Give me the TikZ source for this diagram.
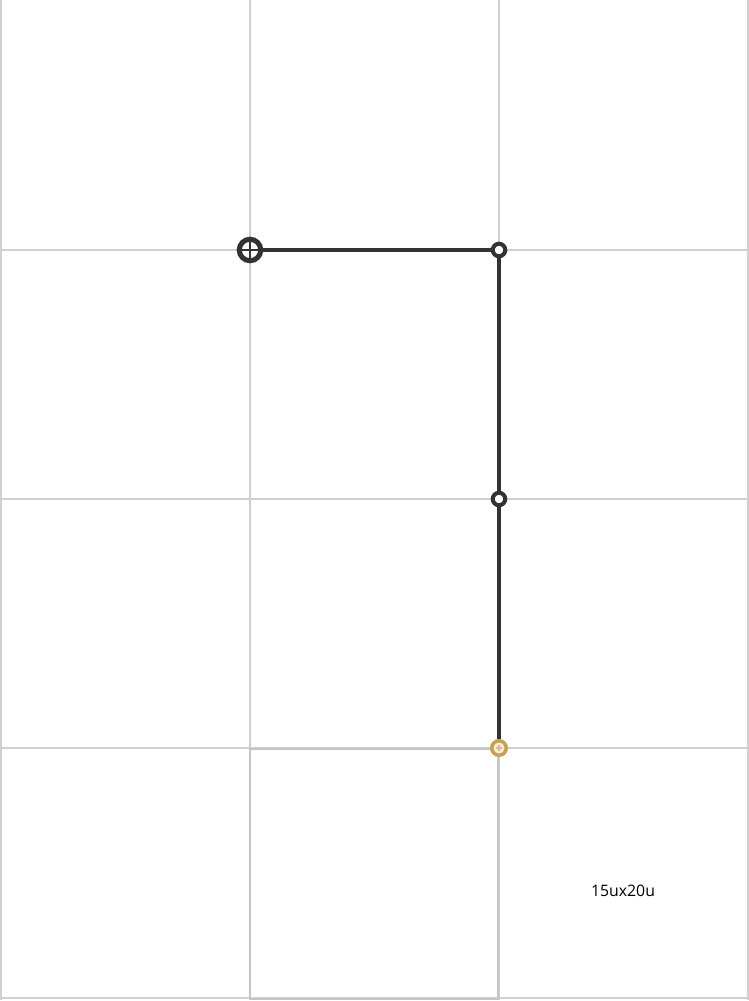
\documentclass[tikz,border=0pt]{standalone}
\usepackage{fontspec}
\setmainfont{Open Sans}
\definecolor{gridgray}{HTML}{D0D0D0}
\definecolor{boxgray}{HTML}{C4C4C4}
\definecolor{linegray}{HTML}{333333}
\definecolor{gold}{HTML}{C8A050}
\begin{document}
\begin{tikzpicture}
  [x=0.02cm,y=-0.02cm,
   joint/.style={circle,draw=linegray,line width=2.3pt,fill=white,inner sep=0pt,minimum size=2.5mm},
   start/.style={circle,draw=linegray,line width=2.9pt,fill=white,inner sep=0pt,minimum size=4.3mm},
   goal/.style={circle,draw=gold,line width=2pt,fill=white!80!gold,inner sep=0pt,minimum size=2.9mm}]
  \useasboundingbox (0,0) rectangle (749,1001);
  % grid
  \draw [gridgray,line width=0.7pt] (1,0) -- (1,1000);
  \draw [gridgray,line width=0.7pt] (250,0) -- (250,1000);
  \draw [gridgray,line width=0.7pt] (499,0) -- (499,1000);
  \draw [gridgray,line width=0.7pt] (748,0) -- (748,1000);
  \draw [gridgray,line width=0.7pt] (0,250) -- (749,250);
  \draw [gridgray,line width=0.7pt] (0,499) -- (749,499);
  \draw [gridgray,line width=0.7pt] (0,748) -- (749,748);
  \draw [gridgray,line width=0.7pt] (0,998) -- (749,998);
  \draw [boxgray,line width=0.8pt] (250,749) rectangle (498,999);

  \node (s) at (250,250) [start] {};
  \node (a) at (499,250) [joint] {};
  \node (b) at (499,499) [joint] {};
  \node (g) at (499,748) [goal] {};

  \draw [linegray,line width=2.8pt] (s) to (a);
  \draw [linegray,line width=2.8pt] (a) to (b);
  \draw [linegray,line width=2.8pt] (b) to (g);

  % crosses in the end points
  \draw [linegray,line width=1.7pt] (s.north) -- (s.south) (s.west) -- (s.east);
  \draw [gold!70,line width=0.7pt] (496,748) -- (502,748) (499,745) -- (499,751);

  \node (size) at (623,891) {\fontsize{9}{11}\selectfont 15ux20u};
\end{tikzpicture}
\end{document}
